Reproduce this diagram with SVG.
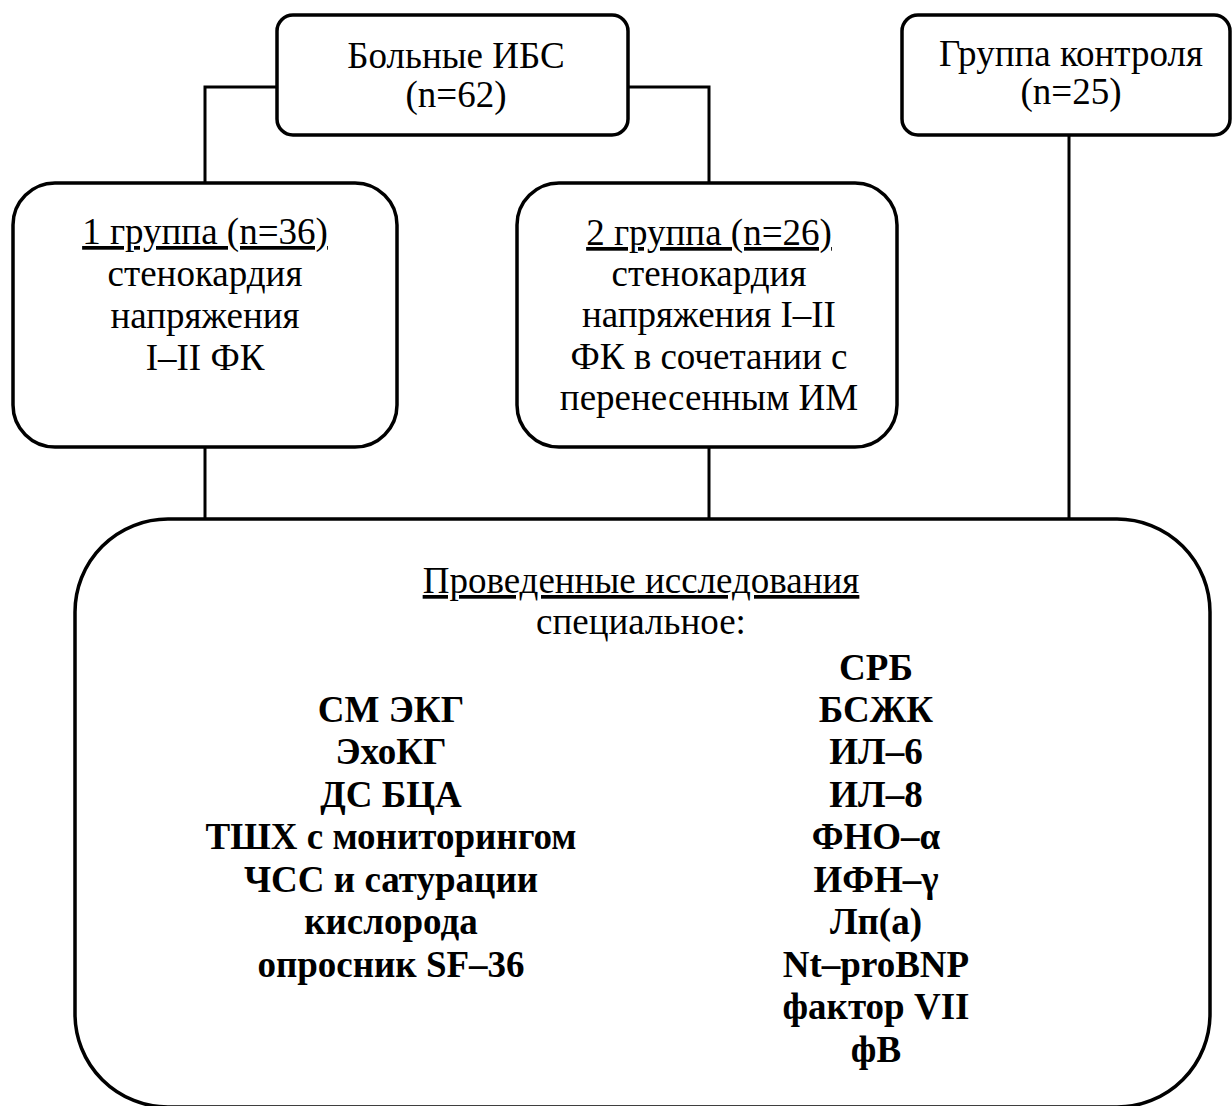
<svg xmlns="http://www.w3.org/2000/svg" width="1232" height="1106" viewBox="0 0 1232 1106">
<style>
.box{fill:#fff;stroke:#000;stroke-width:3.5}
.con{fill:none;stroke:#000;stroke-width:3}
text{font-family:"Liberation Serif","Times New Roman",serif;font-size:37px;fill:#000;text-anchor:middle}
.b{font-weight:bold}
.u{text-decoration:underline}
</style>
<rect width="1232" height="1106" fill="#fff"/>
<g id="connectors">
<path class="con" d="M277,87 H205 V183"/>
<path class="con" d="M628,87 H709 V183"/>
<path class="con" d="M205,447 V519"/>
<path class="con" d="M709,447 V519"/>
<path class="con" d="M1069,135 V519"/>
</g>
<g id="ibs">
<rect class="box" x="277" y="15" width="351" height="120" rx="16"/>
<text x="456" y="68">Больные ИБС</text>
<text x="456" y="107">(n=62)</text>
</g>
<g id="control">
<rect class="box" x="902" y="15" width="328" height="120" rx="16"/>
<text x="1071" y="66">Группа контроля</text>
<text x="1071" y="104">(n=25)</text>
</g>
<g id="group1">
<rect class="box" x="13" y="183" width="384" height="264" rx="42"/>
<text x="205" y="244" class="u">1 группа (n=36)</text>
<text x="205" y="286">стенокардия</text>
<text x="205" y="328">напряжения</text>
<text x="205" y="370">I–II ФК</text>
</g>
<g id="group2">
<rect class="box" x="517" y="183" width="380" height="264" rx="42"/>
<text x="709" y="245" class="u">2 группа (n=26)</text>
<text x="709" y="286">стенокардия</text>
<text x="709" y="327">напряжения I–II</text>
<text x="709" y="369">ФК в сочетании с</text>
<text x="709" y="410">перенесенным ИМ</text>
</g>
<g id="studies">
<rect class="box" x="75" y="519" width="1135" height="588" rx="93"/>
<text x="641" y="593" class="u">Проведенные исследования</text>
<text x="641" y="634">специальное:</text>
<g class="b">
<text x="391" y="722">СМ ЭКГ</text>
<text x="391" y="764">ЭхоКГ</text>
<text x="391" y="807">ДС БЦА</text>
<text x="391" y="849">ТШХ с мониторингом</text>
<text x="391" y="892">ЧСС и сатурации</text>
<text x="391" y="934">кислорода</text>
<text x="391" y="977">опросник SF–36</text>
<text x="876" y="680">СРБ</text>
<text x="876" y="722">БСЖК</text>
<text x="876" y="764">ИЛ–6</text>
<text x="876" y="807">ИЛ–8</text>
<text x="876" y="849">ФНО–α</text>
<text x="876" y="892">ИФН–γ</text>
<text x="876" y="934">Лп(а)</text>
<text x="876" y="977">Nt–proBNP</text>
<text x="876" y="1019">фактор VII</text>
<text x="876" y="1062">фВ</text>
</g>
</g>
</svg>
